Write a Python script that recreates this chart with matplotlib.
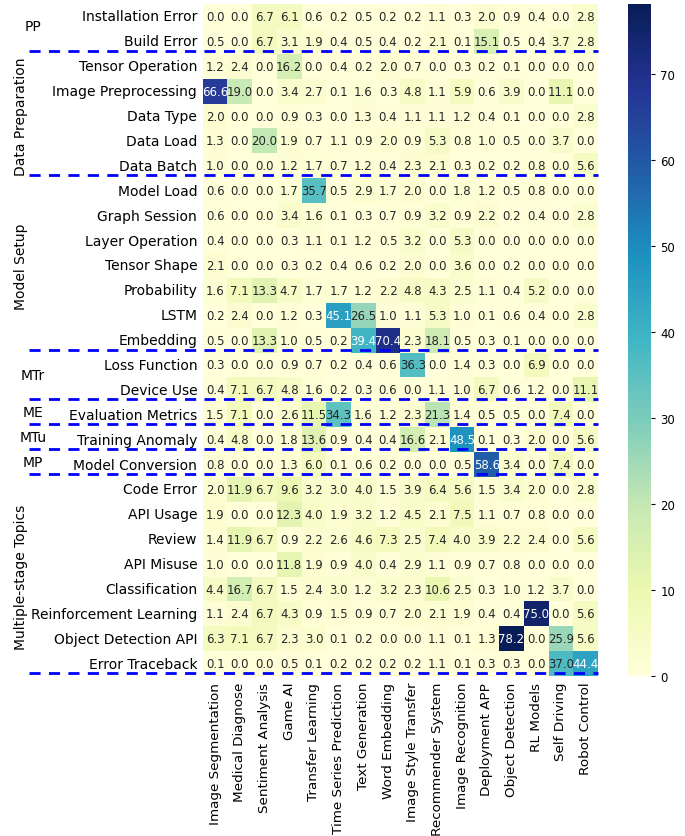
import numpy as np
import matplotlib
matplotlib.use("Agg")
import matplotlib.pyplot as plt
import seaborn as sns

# columns (application domains)
cols = ["Image Segmentation", "Medical Diagnose", "Sentiment Analysis", "Game AI",
        "Transfer Learning", "Time Series Prediction", "Text Generation", "Word Embedding",
        "Image Style Transfer", "Recommender System", "Image Recognition", "Deployment APP",
        "Object Detection", "RL Models", "Self Driving", "Robot Control"]

# rows grouped by stage
pp_rows = ["Installation Error", "Build Error"]
pp_vals = [
    [0.0, 0.0, 6.7, 6.1, 0.6, 0.2, 0.5, 0.2, 0.2, 1.1, 0.3, 2.0, 0.9, 0.4, 0.0, 2.8],
    [0.5, 0.0, 6.7, 3.1, 1.9, 0.4, 0.5, 0.4, 0.2, 2.1, 0.1, 15.1, 0.5, 0.4, 3.7, 2.8],
]
prep_rows = ["Tensor Operation", "Image Preprocessing", "Data Type", "Data Load", "Data Batch"]
prep_vals = [
    [1.2, 2.4, 0.0, 16.2, 0.0, 0.4, 0.2, 2.0, 0.7, 0.0, 0.3, 0.2, 0.1, 0.0, 0.0, 0.0],
    [66.6, 19.0, 0.0, 3.4, 2.7, 0.1, 1.6, 0.3, 4.8, 1.1, 5.9, 0.6, 3.9, 0.0, 11.1, 0.0],
    [2.0, 0.0, 0.0, 0.9, 0.3, 0.0, 1.3, 0.4, 1.1, 1.1, 1.2, 0.4, 0.1, 0.0, 0.0, 2.8],
    [1.3, 0.0, 20.0, 1.9, 0.7, 1.1, 0.9, 2.0, 0.9, 5.3, 0.8, 1.0, 0.5, 0.0, 3.7, 0.0],
    [1.0, 0.0, 0.0, 1.2, 1.7, 0.7, 1.2, 0.4, 2.3, 2.1, 0.3, 0.2, 0.2, 0.8, 0.0, 5.6],
]
setup_rows = ["Model Load", "Graph Session", "Layer Operation", "Tensor Shape",
              "Probability", "LSTM", "Embedding"]
setup_vals = [
    [0.6, 0.0, 0.0, 1.7, 35.7, 0.5, 2.9, 1.7, 2.0, 0.0, 1.8, 1.2, 0.5, 0.8, 0.0, 0.0],
    [0.6, 0.0, 0.0, 3.4, 1.6, 0.1, 0.3, 0.7, 0.9, 3.2, 0.9, 2.2, 0.2, 0.4, 0.0, 2.8],
    [0.4, 0.0, 0.0, 0.3, 1.1, 0.1, 1.2, 0.5, 3.2, 0.0, 5.3, 0.0, 0.0, 0.0, 0.0, 0.0],
    [2.1, 0.0, 0.0, 0.3, 0.2, 0.4, 0.6, 0.2, 2.0, 0.0, 3.6, 0.0, 0.2, 0.0, 0.0, 0.0],
    [1.6, 7.1, 13.3, 4.7, 1.7, 1.7, 1.2, 2.2, 4.8, 4.3, 2.5, 1.1, 0.4, 5.2, 0.0, 0.0],
    [0.2, 2.4, 0.0, 1.2, 0.3, 45.1, 26.5, 1.0, 1.1, 5.3, 1.0, 0.1, 0.6, 0.4, 0.0, 2.8],
    [0.5, 0.0, 13.3, 1.0, 0.5, 0.2, 39.4, 70.4, 2.3, 18.1, 0.5, 0.3, 0.1, 0.0, 0.0, 0.0],
]
mtr_rows = ["Loss Function", "Device Use"]
mtr_vals = [
    [0.3, 0.0, 0.0, 0.9, 0.7, 0.2, 0.4, 0.6, 36.3, 0.0, 1.4, 0.3, 0.0, 6.9, 0.0, 0.0],
    [0.4, 7.1, 6.7, 4.8, 1.6, 0.2, 0.3, 0.6, 0.0, 1.1, 1.0, 6.7, 0.6, 1.2, 0.0, 11.1],
]
me_rows = ["Evaluation Metrics"]
me_vals = [[1.5, 7.1, 0.0, 2.6, 11.5, 34.3, 1.6, 1.2, 2.3, 21.3, 1.4, 0.5, 0.5, 0.0, 7.4, 0.0]]
mtu_rows = ["Training Anomaly"]
mtu_vals = [[0.4, 4.8, 0.0, 1.8, 13.6, 0.9, 0.4, 0.4, 16.6, 2.1, 48.5, 0.1, 0.3, 2.0, 0.0, 5.6]]
mp_rows = ["Model Conversion"]
mp_vals = [[0.8, 0.0, 0.0, 1.3, 6.0, 0.1, 0.6, 0.2, 0.0, 0.0, 0.5, 58.6, 3.4, 0.0, 7.4, 0.0]]
multi_rows = ["Code Error", "API Usage", "Review", "API Misuse", "Classification",
              "Reinforcement Learning", "Object Detection API", "Error Traceback"]
multi_vals = [
    [2.0, 11.9, 6.7, 9.6, 3.2, 3.0, 4.0, 1.5, 3.9, 6.4, 5.6, 1.5, 3.4, 2.0, 0.0, 2.8],
    [1.9, 0.0, 0.0, 12.3, 4.0, 1.9, 3.2, 1.2, 4.5, 2.1, 7.5, 1.1, 0.7, 0.8, 0.0, 0.0],
    [1.4, 11.9, 6.7, 0.9, 2.2, 2.6, 4.6, 7.3, 2.5, 7.4, 4.0, 3.9, 2.2, 2.4, 0.0, 5.6],
    [1.0, 0.0, 0.0, 11.8, 1.9, 0.9, 4.0, 0.4, 2.9, 1.1, 0.9, 0.7, 0.8, 0.0, 0.0, 0.0],
    [4.4, 16.7, 6.7, 1.5, 2.4, 3.0, 1.2, 3.2, 2.3, 10.6, 2.5, 0.3, 1.0, 1.2, 3.7, 0.0],
    [1.1, 2.4, 6.7, 4.3, 0.9, 1.5, 0.9, 0.7, 2.0, 2.1, 1.9, 0.4, 0.4, 75.0, 0.0, 5.6],
    [6.3, 7.1, 6.7, 2.3, 3.0, 0.1, 0.2, 0.0, 0.0, 1.1, 0.1, 1.3, 78.2, 0.0, 25.9, 5.6],
    [0.1, 0.0, 0.0, 0.5, 0.1, 0.2, 0.2, 0.2, 0.2, 1.1, 0.1, 0.3, 0.3, 0.0, 37.0, 44.4],
]

groups = [
    ("PP", pp_rows, pp_vals, False),
    ("Data Preparation", prep_rows, prep_vals, True),
    ("Model Setup", setup_rows, setup_vals, True),
    ("MTr", mtr_rows, mtr_vals, False),
    ("ME", me_rows, me_vals, False),
    ("MTu", mtu_rows, mtu_vals, False),
    ("MP", mp_rows, mp_vals, False),
    ("Multiple-stage Topics", multi_rows, multi_vals, True),
]

rows = [r for g in groups for r in g[1]]
data = np.array([v for g in groups for v in g[2]])

fig = plt.figure(figsize=(6.85, 8.37), dpi=100)
ax = fig.add_axes([0.296, 0.191, 0.577, 0.803])
cax = fig.add_axes([0.917, 0.191, 0.034, 0.803])

sns.heatmap(data, ax=ax, cbar_ax=cax, cmap="YlGnBu", vmin=0, vmax=data.max(),
            annot=True, fmt=".1f", annot_kws={"fontsize": 8.5},
            xticklabels=cols, yticklabels=rows)
ax.tick_params(axis="both", length=0, pad=4)
ax.set_xticklabels(cols, rotation=90, fontsize=9.7)
ax.set_yticklabels(rows, rotation=0, fontsize=10)
cax.tick_params(labelsize=8.5, length=3)
cax.set_yticks(range(0, 80, 10))

# group separators and labels
trans = ax.get_yaxis_transform()
start = 0
for name, grp_rows, _, vertical in groups:
    end = start + len(grp_rows)
    ax.plot([-0.44, 1.0], [end - 0.12, end - 0.12], transform=trans, color="blue",
            linestyle="--", linewidth=2, dashes=(4, 3), clip_on=False)
    mid = (start + end) / 2
    if vertical:
        ax.text(-0.46, mid, name, transform=trans, rotation=90, ha="center",
                va="center", fontsize=10)
    else:
        ax.text(-0.43, mid - 0.1, name, transform=trans, ha="center",
                va="center", fontsize=10)
    start = end

fig.savefig("out.png", dpi=100)
